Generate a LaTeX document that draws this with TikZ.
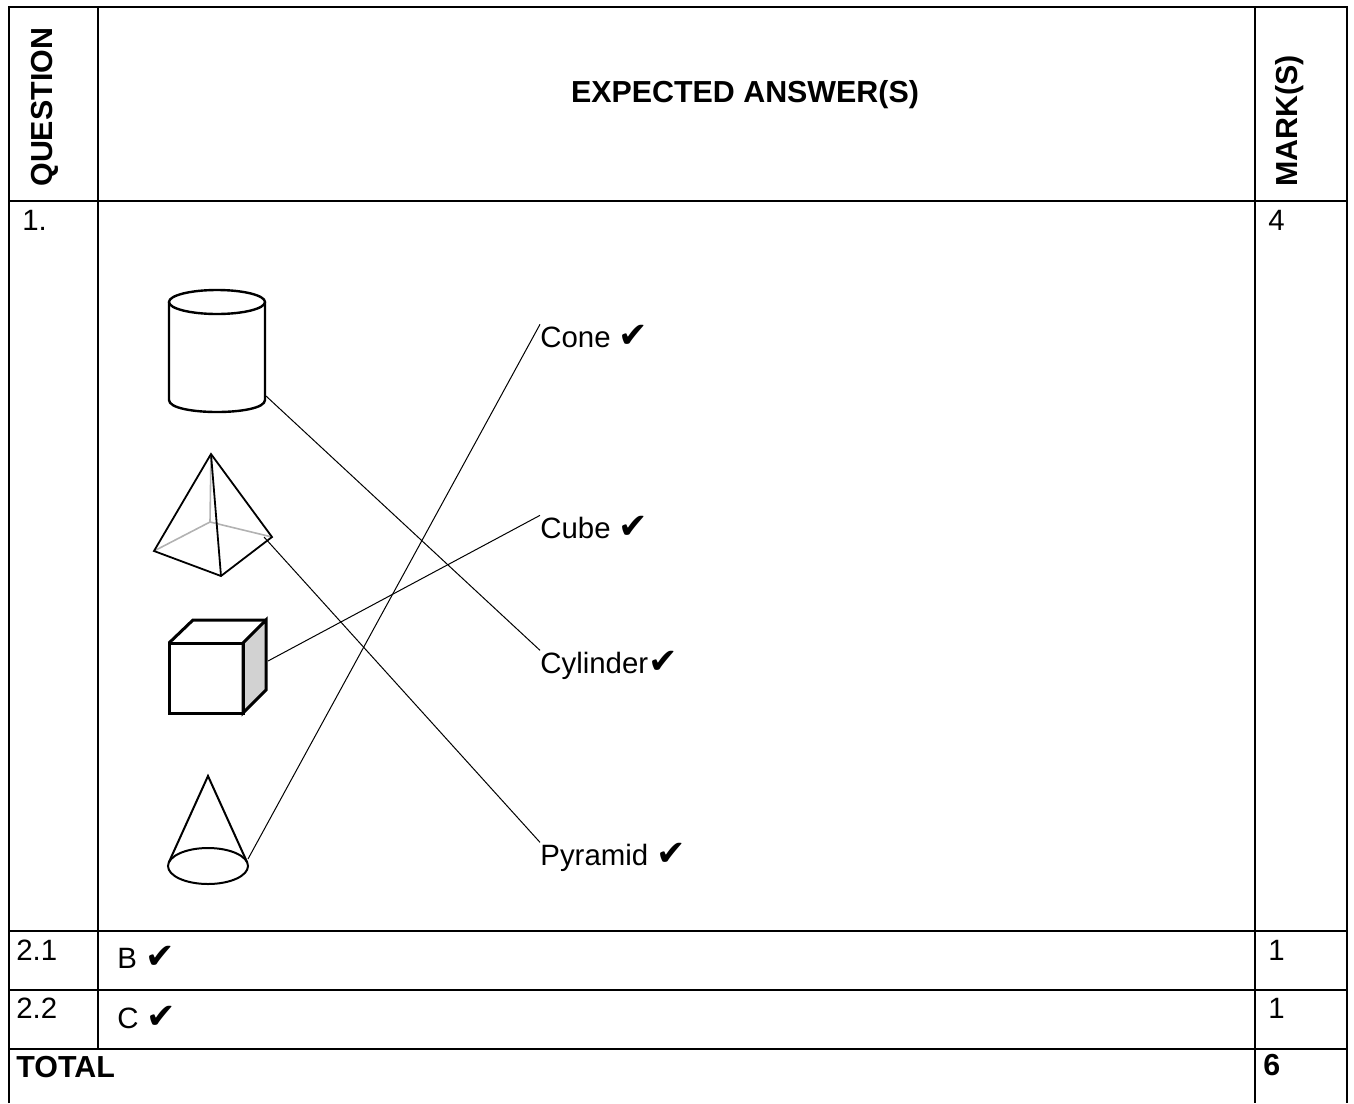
\documentclass[tikz,border=0pt]{standalone}
\usepackage{fontspec}
\setmainfont{Liberation Sans}
\newfontfamily\tickfont{DejaVu Sans}[Scale=1.2]
\newcommand{\tick}{{\tickfont\char"2714}}

\begin{document}
\begin{tikzpicture}[x=0.5pt,y=-0.5pt,
    font=\fontsize{14.7}{17}\selectfont,
    txt/.style={anchor=base west, inner sep=0pt},
    head/.style={inner sep=0pt, font=\fontsize{15.2}{17}\selectfont\bfseries},
    grid/.style={line width=1.4pt},
    link/.style={line width=0.5pt},
    solid3d/.style={line width=1.2pt},
    hidden/.style={line width=0.8pt, gray!60}]
        \useasboundingbox (0,0) rectangle (1354,1103);
        % table
        \draw[grid] (9,1103) -- (9,7) -- (1347,7) -- (1347,1103);
        \draw[grid] (98,7) -- (98,1049);
        \draw[grid] (1255,7) -- (1255,1103);
        \foreach \y in {201,931,990,1049}
            \draw[grid] (9,\y) -- (1347,\y);
        \node[head, rotate=90, anchor=base west] (hq) at (52,187) {QUESTION};
        \node[head, anchor=base] (ha) at (745,102) {EXPECTED ANSWER(S)};
        \node[head, rotate=90, anchor=base west] (hm) at (1297,187) {MARK(S)};
        \node[txt] (q1) at (22,230) {1.};
        \node[txt] (m1) at (1268,230) {4};
        \node[txt] (q21) at (16,960) {2.1};
        \node[txt] (a21) at (117,968) {B \tick};
        \node[txt] (m21) at (1268,960) {1};
        \node[txt] (q22) at (16,1018) {2.2};
        \node[txt] (a22) at (117,1028) {C \tick};
        \node[txt] (m22) at (1268,1018) {1};
        \node[txt, font=\fontsize{15.2}{17}\selectfont\bfseries] (tot) at (16,1077) {TOTAL};
        \node[txt, font=\fontsize{15.2}{17}\selectfont\bfseries] (mtot) at (1263,1075) {6};
        % cylinder
        \draw[solid3d] (217,302) ellipse [x radius=48, y radius=12];
        \draw[solid3d] (169,302) -- (169,400) .. controls (169,416) and (265,416) .. (265,400) -- (265,302);
        \coordinate (cyl) at (266,396);
        % pyramid
        \draw[hidden] (211,454) -- (210,522);
        \draw[hidden] (154,551) -- (210,522) -- (272,537);
        \draw[line width=0.9pt] (211,454) -- (154,551) -- (221,576) -- (272,537) -- cycle;
        \draw[line width=0.9pt] (211,454) -- (221,576);
        \coordinate (pyr) at (264,537);
        % cube
        \filldraw[solid3d, line width=1.5pt, fill=gray!35] (243,643) -- (266,620) -- (266,690) -- (243,713) -- cycle;
        \draw[solid3d, line width=1.5pt] (169,643) -- (193,620) -- (266,620);
        \draw[solid3d, line width=1.5pt] (169,643) rectangle (243,713);
        \coordinate (cub) at (268,661);
        % cone
        \draw[line width=1pt] (208,866) ellipse [x radius=40, y radius=18];
        \draw[line width=1pt] (168.8,862.4) -- (208,776) -- (247.2,862.4);
        \coordinate (con) at (248,859);
        % labels
        \node[txt] (lcone) at (540,347) {Cone \tick};
        \node[txt] (lcube) at (540,538) {Cube \tick};
        \node[txt] (lcyl) at (540,673) {Cylinder\tick};
        \node[txt] (lpyr) at (540,865) {Pyramid \tick};
        \draw[link] (con) -- (lcone.north west);
        \draw[link] (cub) -- (lcube.north west);
        \draw[link] (cyl) -- (lcyl.north west);
        \draw[link] (pyr) -- (lpyr.north west);
    \end{tikzpicture}
\end{document}
